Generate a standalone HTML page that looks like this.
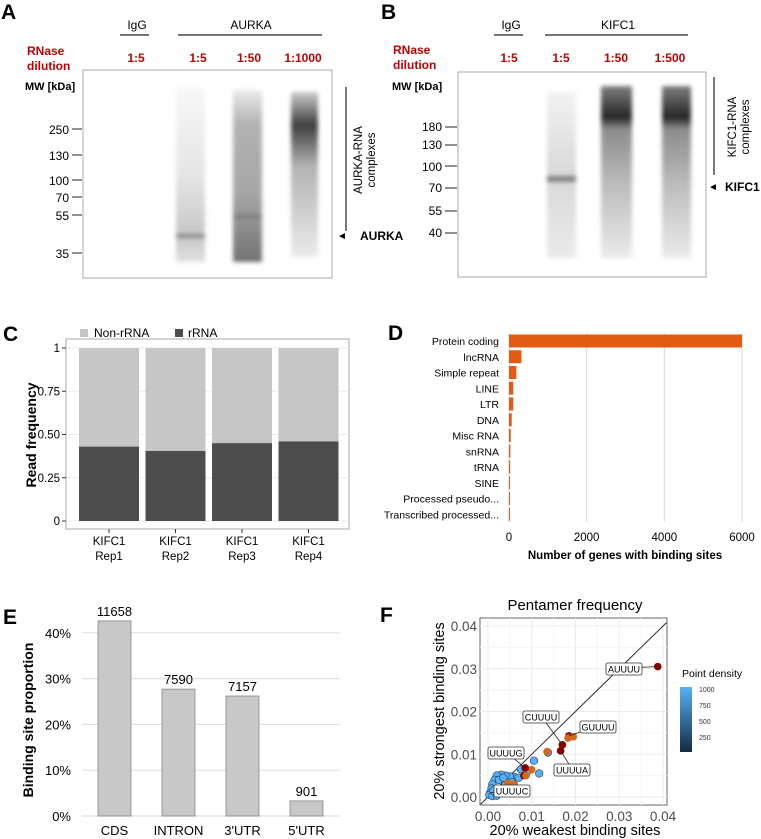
<!DOCTYPE html>
<html><head><meta charset="utf-8"><style>
html,body{margin:0;padding:0;background:#fff}
svg{display:block;font-family:"Liberation Sans",Arial,sans-serif}
</style></head><body>
<svg id="fig" width="761" height="839" viewBox="0 0 761 839" xmlns="http://www.w3.org/2000/svg">
<defs>
<filter id="blur" x="-30%" y="-10%" width="160%" height="120%"><feGaussianBlur stdDeviation="2.2"/></filter>
<linearGradient id="gA1" x1="0" y1="0" x2="0" y2="1"><stop offset="0" stop-color="#000" stop-opacity="0.03"/><stop offset="0.5" stop-color="#000" stop-opacity="0.1"/><stop offset="0.85" stop-color="#000" stop-opacity="0.22"/><stop offset="1" stop-color="#000" stop-opacity="0.12"/></linearGradient>
<linearGradient id="gA2" x1="0" y1="0" x2="0" y2="1"><stop offset="0" stop-color="#000" stop-opacity="0.08"/><stop offset="0.2" stop-color="#000" stop-opacity="0.3"/><stop offset="0.6" stop-color="#000" stop-opacity="0.35"/><stop offset="1" stop-color="#000" stop-opacity="0.55"/></linearGradient>
<linearGradient id="gA3" x1="0" y1="0" x2="0" y2="1"><stop offset="0" stop-color="#000" stop-opacity="0.2"/><stop offset="0.2" stop-color="#000" stop-opacity="0.75"/><stop offset="0.45" stop-color="#000" stop-opacity="0.3"/><stop offset="1" stop-color="#000" stop-opacity="0.08"/></linearGradient>
<linearGradient id="gB1" x1="0" y1="0" x2="0" y2="1"><stop offset="0" stop-color="#000" stop-opacity="0.05"/><stop offset="0.5" stop-color="#000" stop-opacity="0.15"/><stop offset="1" stop-color="#000" stop-opacity="0.08"/></linearGradient>
<linearGradient id="gB2" x1="0" y1="0" x2="0" y2="1"><stop offset="0" stop-color="#000" stop-opacity="0.5"/><stop offset="0.18" stop-color="#000" stop-opacity="0.85"/><stop offset="0.25" stop-color="#000" stop-opacity="0.45"/><stop offset="0.6" stop-color="#000" stop-opacity="0.25"/><stop offset="1" stop-color="#000" stop-opacity="0.08"/></linearGradient>
<linearGradient id="cbar" x1="0" y1="1" x2="0" y2="0"><stop offset="0" stop-color="#132b43"/><stop offset="1" stop-color="#56b1f7"/></linearGradient>
</defs>

<!-- PANEL A -->
<g>
<text x="1" y="19" font-size="21" font-weight="bold">A</text>
<text x="137" y="29" font-size="12" text-anchor="middle">IgG</text>
<line x1="120" y1="35" x2="149" y2="35" stroke="#222" stroke-width="1.2"/>
<text x="251" y="29" font-size="12" text-anchor="middle">AURKA</text>
<line x1="178" y1="35" x2="322" y2="35" stroke="#222" stroke-width="1.2"/>
<g fill="#c00000" font-size="12" font-weight="bold">
<text x="27" y="55">RNase</text><text x="27" y="70">dilution</text>
<text x="136" y="62" text-anchor="middle">1:5</text><text x="198" y="62" text-anchor="middle">1:5</text>
<text x="249" y="62" text-anchor="middle">1:50</text><text x="303" y="62" text-anchor="middle">1:1000</text>
</g>
<rect x="83" y="70" width="249" height="208" fill="#fff" stroke="#aaa" stroke-width="1"/>
<g filter="url(#blur)">
<rect x="176" y="88" width="29" height="174" fill="url(#gA1)"/>
<rect x="176" y="234" width="29" height="4" fill="#000" opacity="0.3"/>
<rect x="233" y="90" width="29" height="172" fill="url(#gA2)"/>
<rect x="233" y="215" width="29" height="3" fill="#000" opacity="0.2"/>
<rect x="291" y="92" width="27" height="165" fill="url(#gA3)"/>
</g>
<text x="25" y="90" font-size="11" font-weight="bold">MW [kDa]</text>
<g font-size="12" text-anchor="end">
<text x="69" y="134">250</text><line x1="72" y1="129" x2="82" y2="129" stroke="#222"/>
<text x="69" y="160">130</text><line x1="72" y1="155" x2="82" y2="155" stroke="#222"/>
<text x="69" y="185">100</text><line x1="72" y1="180" x2="82" y2="180" stroke="#222"/>
<text x="69" y="202">70</text><line x1="72" y1="197" x2="82" y2="197" stroke="#222"/>
<text x="69" y="220">55</text><line x1="72" y1="215" x2="82" y2="215" stroke="#222"/>
<text x="69" y="258">35</text><line x1="72" y1="253" x2="82" y2="253" stroke="#222"/>
</g>
<line x1="346" y1="87" x2="346" y2="231" stroke="#222" stroke-width="1.2"/>
<text transform="translate(365,160) rotate(-90)" font-size="11.5" text-anchor="middle"><tspan x="0" dy="-3">AURKA-RNA</tspan><tspan x="0" dy="13">complexes</tspan></text>
<text x="337" y="239" font-size="10">◄</text>
<text x="360" y="240" font-size="12" font-weight="bold">AURKA</text>
</g>

<!-- PANEL B -->
<g>
<text x="381" y="19" font-size="21" font-weight="bold">B</text>
<text x="511" y="29" font-size="12" text-anchor="middle">IgG</text>
<line x1="494" y1="35" x2="523" y2="35" stroke="#222" stroke-width="1.2"/>
<text x="618" y="29" font-size="12" text-anchor="middle">KIFC1</text>
<line x1="545" y1="35" x2="688" y2="35" stroke="#222" stroke-width="1.2"/>
<g fill="#c00000" font-size="12" font-weight="bold">
<text x="393" y="54">RNase</text><text x="393" y="69">dilution</text>
<text x="509" y="62" text-anchor="middle">1:5</text><text x="561" y="62" text-anchor="middle">1:5</text>
<text x="616" y="62" text-anchor="middle">1:50</text><text x="670" y="62" text-anchor="middle">1:500</text>
</g>
<rect x="458" y="72" width="248" height="205" fill="#fff" stroke="#aaa" stroke-width="1"/>
<g filter="url(#blur)">
<rect x="547" y="92" width="29" height="166" fill="url(#gB1)"/>
<rect x="547" y="176" width="29" height="6" fill="#000" opacity="0.4"/>
<rect x="601" y="86" width="31" height="172" fill="url(#gB2)"/>
<rect x="662" y="86" width="29" height="172" fill="url(#gB2)"/>
</g>
<text x="392" y="90" font-size="11" font-weight="bold">MW [kDa]</text>
<g font-size="12" text-anchor="end">
<text x="442" y="131">180</text><line x1="445" y1="127" x2="457" y2="127" stroke="#222"/>
<text x="442" y="149">130</text><line x1="445" y1="145" x2="457" y2="145" stroke="#222"/>
<text x="442" y="171">100</text><line x1="445" y1="166" x2="457" y2="166" stroke="#222"/>
<text x="442" y="192">70</text><line x1="445" y1="188" x2="457" y2="188" stroke="#222"/>
<text x="442" y="215">55</text><line x1="445" y1="211" x2="457" y2="211" stroke="#222"/>
<text x="442" y="237">40</text><line x1="445" y1="233" x2="457" y2="233" stroke="#222"/>
</g>
<line x1="714" y1="77" x2="714" y2="175" stroke="#222" stroke-width="1.2"/>
<text transform="translate(739,127) rotate(-90)" font-size="11.5" text-anchor="middle"><tspan x="0" dy="-3">KIFC1-RNA</tspan><tspan x="0" dy="13">complexes</tspan></text>
<text x="708" y="190" font-size="10">◄</text>
<text x="725" y="191" font-size="12" font-weight="bold">KIFC1</text>
</g>

<g id="panelC">
<text x="3" y="341" font-size="21" font-weight="bold">C</text>
<rect x="80" y="329" width="8" height="8" fill="#c6c6c6"/>
<text x="94" y="337" font-size="12">Non-rRNA</text>
<rect x="175" y="329" width="8" height="8" fill="#4d4d4d"/>
<text x="188" y="337" font-size="12">rRNA</text>
<rect x="66" y="339" width="283" height="190" fill="#fff" stroke="#aaa"/>
<text transform="translate(36,435) rotate(-90)" font-size="14" font-weight="bold" text-anchor="middle">Read frequency</text>
</g>

<g id="panelD">
<text x="388" y="340" font-size="21" font-weight="bold">D</text>
<text x="625" y="559" font-size="11.5" font-weight="bold" text-anchor="middle">Number of genes with binding sites</text>
</g>

<g id="panelE">
<text x="3" y="624" font-size="21" font-weight="bold">E</text>
<text transform="translate(33,720) rotate(-90)" font-size="14" font-weight="bold" text-anchor="middle">Binding site proportion</text>
</g>

<g id="panelF">
<text x="380" y="622" font-size="21" font-weight="bold">F</text>
<text x="575" y="610" font-size="15" text-anchor="middle">Pentamer frequency</text>
<text x="575" y="835" font-size="14.5" text-anchor="middle">20% weakest binding sites</text>
<text transform="translate(444,711) rotate(-90)" font-size="14.5" text-anchor="middle">20% strongest binding sites</text>
<text x="682" y="677" font-size="10.5">Point density</text>
<rect x="680" y="687" width="12" height="65" fill="url(#cbar)"/>
<g font-size="7" fill="#333"><text x="699" y="692">1000</text><text x="699" y="708">750</text><text x="699" y="724">500</text><text x="699" y="740">250</text></g>
</g>
</svg>
<script>
const NS="http://www.w3.org/2000/svg";
function mk(tag,attrs,parent,txt){const e=document.createElementNS(NS,tag);for(const k in attrs)e.setAttribute(k,attrs[k]);if(txt!==undefined)e.textContent=txt;parent.appendChild(e);return e;}

// ---- Panel C data
const cCategories=["Rep1","Rep2","Rep3","Rep4"];
const cRrna=[0.43,0.405,0.45,0.46];
const cTicks=[0,0.25,0.5,0.75,1];
const cTickLabels=["0","0.25","0.50","0.75","1"];
// ---- Panel D data
const dCategories=["Protein coding","lncRNA","Simple repeat","LINE","LTR","DNA","Misc RNA","snRNA","tRNA","SINE","Processed pseudo...","Transcribed processed..."];
const dValues=[6000,320,190,110,110,70,45,35,30,25,15,10];
const dTicks=[0,2000,4000,6000];
// ---- Panel E data
const eCategories=["CDS","INTRON","3'UTR","5'UTR"];
const eValues=[42.6,27.7,26.2,3.3];
const eCounts=["11658","7590","7157","901"];
const eTicks=[0,10,20,30,40];
// ---- Panel F data
const fX=[0.0388,0.0185,0.0195,0.0183,0.0170,0.0166,0.0135,0.0137,0.0105,0.0117,0.0100,0.0085,0.0082,0.0087,0.0090,0.0075,0.0060,0.0050,0.0040,0.0030,0.0020,0.0015,0.0010,0.0008,0.0005,0.0003,0.0010,0.0020,0.0030,0.0040,0.0055,0.0050,0.0045,0.0060,0.0070,0.0012,0.0025,0.0035];
const fY=[0.0305,0.0143,0.0141,0.0138,0.0122,0.0108,0.0106,0.0104,0.0085,0.0055,0.0064,0.0068,0.0050,0.0050,0.0060,0.0065,0.0047,0.0048,0.0050,0.0052,0.0050,0.0040,0.0030,0.0020,0.0010,0.0005,0.0002,0.0003,0.0010,0.0030,0.0035,0.0030,0.0032,0.0030,0.0045,0.0015,0.0040,0.0045];
const fGroup=["r","r","o","o","r","r","o","b","b","b","o","r","r","o","b","b","b","b","b","b","b","b","b","b","b","b","b","b","b","b","b","o","o","o","b","b","b","b"];
const fLabels=["AUUUU","GUUUU","CUUUU","UUUUA","UUUUG","UUUUC"];
const fLabelPoint=[0,1,4,5,11,24];
const fTicks=[0,0.01,0.02,0.03,0.04];
const fTickLabels=["0.00","0.01","0.02","0.03","0.04"];

// Panel C
(function(){
const g=document.getElementById('panelC');
const y=v=>521-v*173;
cTicks.forEach((t,i)=>{
 const gl=mk('line',{x1:66,x2:349,y1:y(t),y2:y(t),stroke:'#ebebeb'},g);
 
 
 mk('line',{x1:62,x2:66,y1:y(t),y2:y(t),stroke:'#333'},g);
 const tl=mk('text',{x:60,y:y(t)+4,'font-size':11.5,'text-anchor':'end'},g,cTickLabels[i]);
 
 
});
const step=66.5, x0=79, bw=60;
cCategories.forEach((c,i)=>{
 const x=x0+i*step;
 const b1=mk('rect',{x:x,y:y(1),width:bw,height:y(cRrna[i])-y(1),fill:'#c6c6c6'},g);
 
 
 const b2=mk('rect',{x:x,y:y(cRrna[i]),width:bw,height:y(0)-y(cRrna[i]),fill:'#4d4d4d'},g);
 
 
 mk('line',{x1:x+bw/2,x2:x+bw/2,y1:529,y2:533,stroke:'#333'},g);
 const t1=mk('text',{x:x+bw/2,y:545,'font-size':11.5,'text-anchor':'middle'},g,'KIFC1');
 
 
 mk('text',{x:x+bw/2,y:560,'font-size':11.5,'text-anchor':'middle'},g,c);
});
})();

// Panel D
(function(){
const g=document.getElementById('panelD');
const x=v=>509+v*(233/6000);
dTicks.forEach(t=>{
 if(t>0){const gl=mk('line',{x1:x(t),x2:x(t),y1:333,y2:522,stroke:'#d9d9d9'},g);
 
 }
 const tl=mk('text',{x:x(t),y:541,'font-size':11.5,'text-anchor':'middle'},g,String(t));
 
 
});
mk('line',{x1:509,x2:509,y1:333,y2:522,stroke:'#d9d9d9'},g);
dCategories.forEach((c,i)=>{
 const cy=341+i*15.75;
 const b=mk('rect',{x:509,y:cy-6.5,width:Math.max(1,x(dValues[i])-509),height:13,fill:'#e35b12'},g);
 
 
 const t=mk('text',{x:499,y:cy+4,'font-size':10.5,'text-anchor':'end'},g,c);
 
 
});
})();

// Panel E
(function(){
const g=document.getElementById('panelE');
const y=v=>816-v*4.58;
eTicks.forEach(t=>{
 const gl=mk('line',{x1:82,x2:340,y1:y(t),y2:y(t),stroke:'#e0e0e0','stroke-width':1.2},g);
 
 
 const tl=mk('text',{x:71,y:y(t)+5,'font-size':13,'text-anchor':'end'},g,t+'%');
 
 
});
eCategories.forEach((c,i)=>{
 const x=98+i*64;
 const b=mk('rect',{x:x,y:y(eValues[i]),width:33,height:y(0)-y(eValues[i]),fill:'#c8c8c8',stroke:'#888','stroke-width':0.8},g);
 
 
 const v=mk('text',{x:x+16.5,y:y(eValues[i])-5,'font-size':13,'text-anchor':'middle'},g,eCounts[i]);
 
 
 const t=mk('text',{x:x+16.5,y:835,'font-size':13,'text-anchor':'middle'},g,c);
 
 
});
})();

// Panel F
(function(){
const g=document.getElementById('panelF');
const x=v=>488+v*4375, y=v=>797-v*4275;
const bg=mk('rect',{x:480,y:618,width:187,height:187,fill:'#fff',stroke:'#666'},g);


fTicks.forEach((t,i)=>{
 mk('line',{x1:x(t),x2:x(t),y1:618,y2:805,stroke:'#ebebeb'},g);
 mk('line',{x1:480,x2:667,y1:y(t),y2:y(t),stroke:'#ebebeb'},g);
 if(i<4){mk('line',{x1:x(t+0.005),x2:x(t+0.005),y1:618,y2:805,stroke:'#f5f5f5'},g);
 mk('line',{x1:480,x2:667,y1:y(t+0.005),y2:y(t+0.005),stroke:'#f5f5f5'},g);}
 const xl=mk('text',{x:x(t),y:821,'font-size':13.5,'text-anchor':'middle','fill':'#4d4d4d'},g,fTickLabels[i]);
 
 
 const yl=mk('text',{x:477,y:y(t)+5,'font-size':13.5,'text-anchor':'end','fill':'#4d4d4d'},g,fTickLabels[i]);
 
 
});
mk('line',{x1:x(-0.0017),y1:y(-0.0017),x2:x(0.0408),y2:y(0.0408),stroke:'#333','stroke-width':1},g);
const col={r:'#8b0000',o:'#d2691e',b:'#56b1f7'};
const order=fX.map((_,i)=>i).sort((a,b)=>(fGroup[a]==='b'?0:1)-(fGroup[b]==='b'?0:1));
order.forEach(i=>{
 const c=mk('circle',{cx:x(fX[i]),cy:y(fY[i]),r:3.8,fill:col[fGroup[i]],stroke:fGroup[i]==='b'?'#1a3a5a':'none','stroke-width':0.6},g);
 
 
});
const boxes=[[606,663],[580,721],[523,711],[554,764],[488,747],[494,785]];
fLabels.forEach((l,k)=>{
 const p=fLabelPoint[k], bx=boxes[k][0], by=boxes[k][1];
 mk('line',{x1:bx+18,y1:by+5,x2:x(fX[p]),y2:y(fY[p]),stroke:'#222','stroke-width':0.8},g);
 const r=mk('rect',{x:bx,y:by,width:36,height:12,rx:2,fill:'#fff',stroke:'#333','stroke-width':0.8},g);
 
 
 const t=mk('text',{x:bx+18,y:by+9.5,'font-size':9,'text-anchor':'middle'},g,l);
 
 
});
})();
</script>
</body></html>
